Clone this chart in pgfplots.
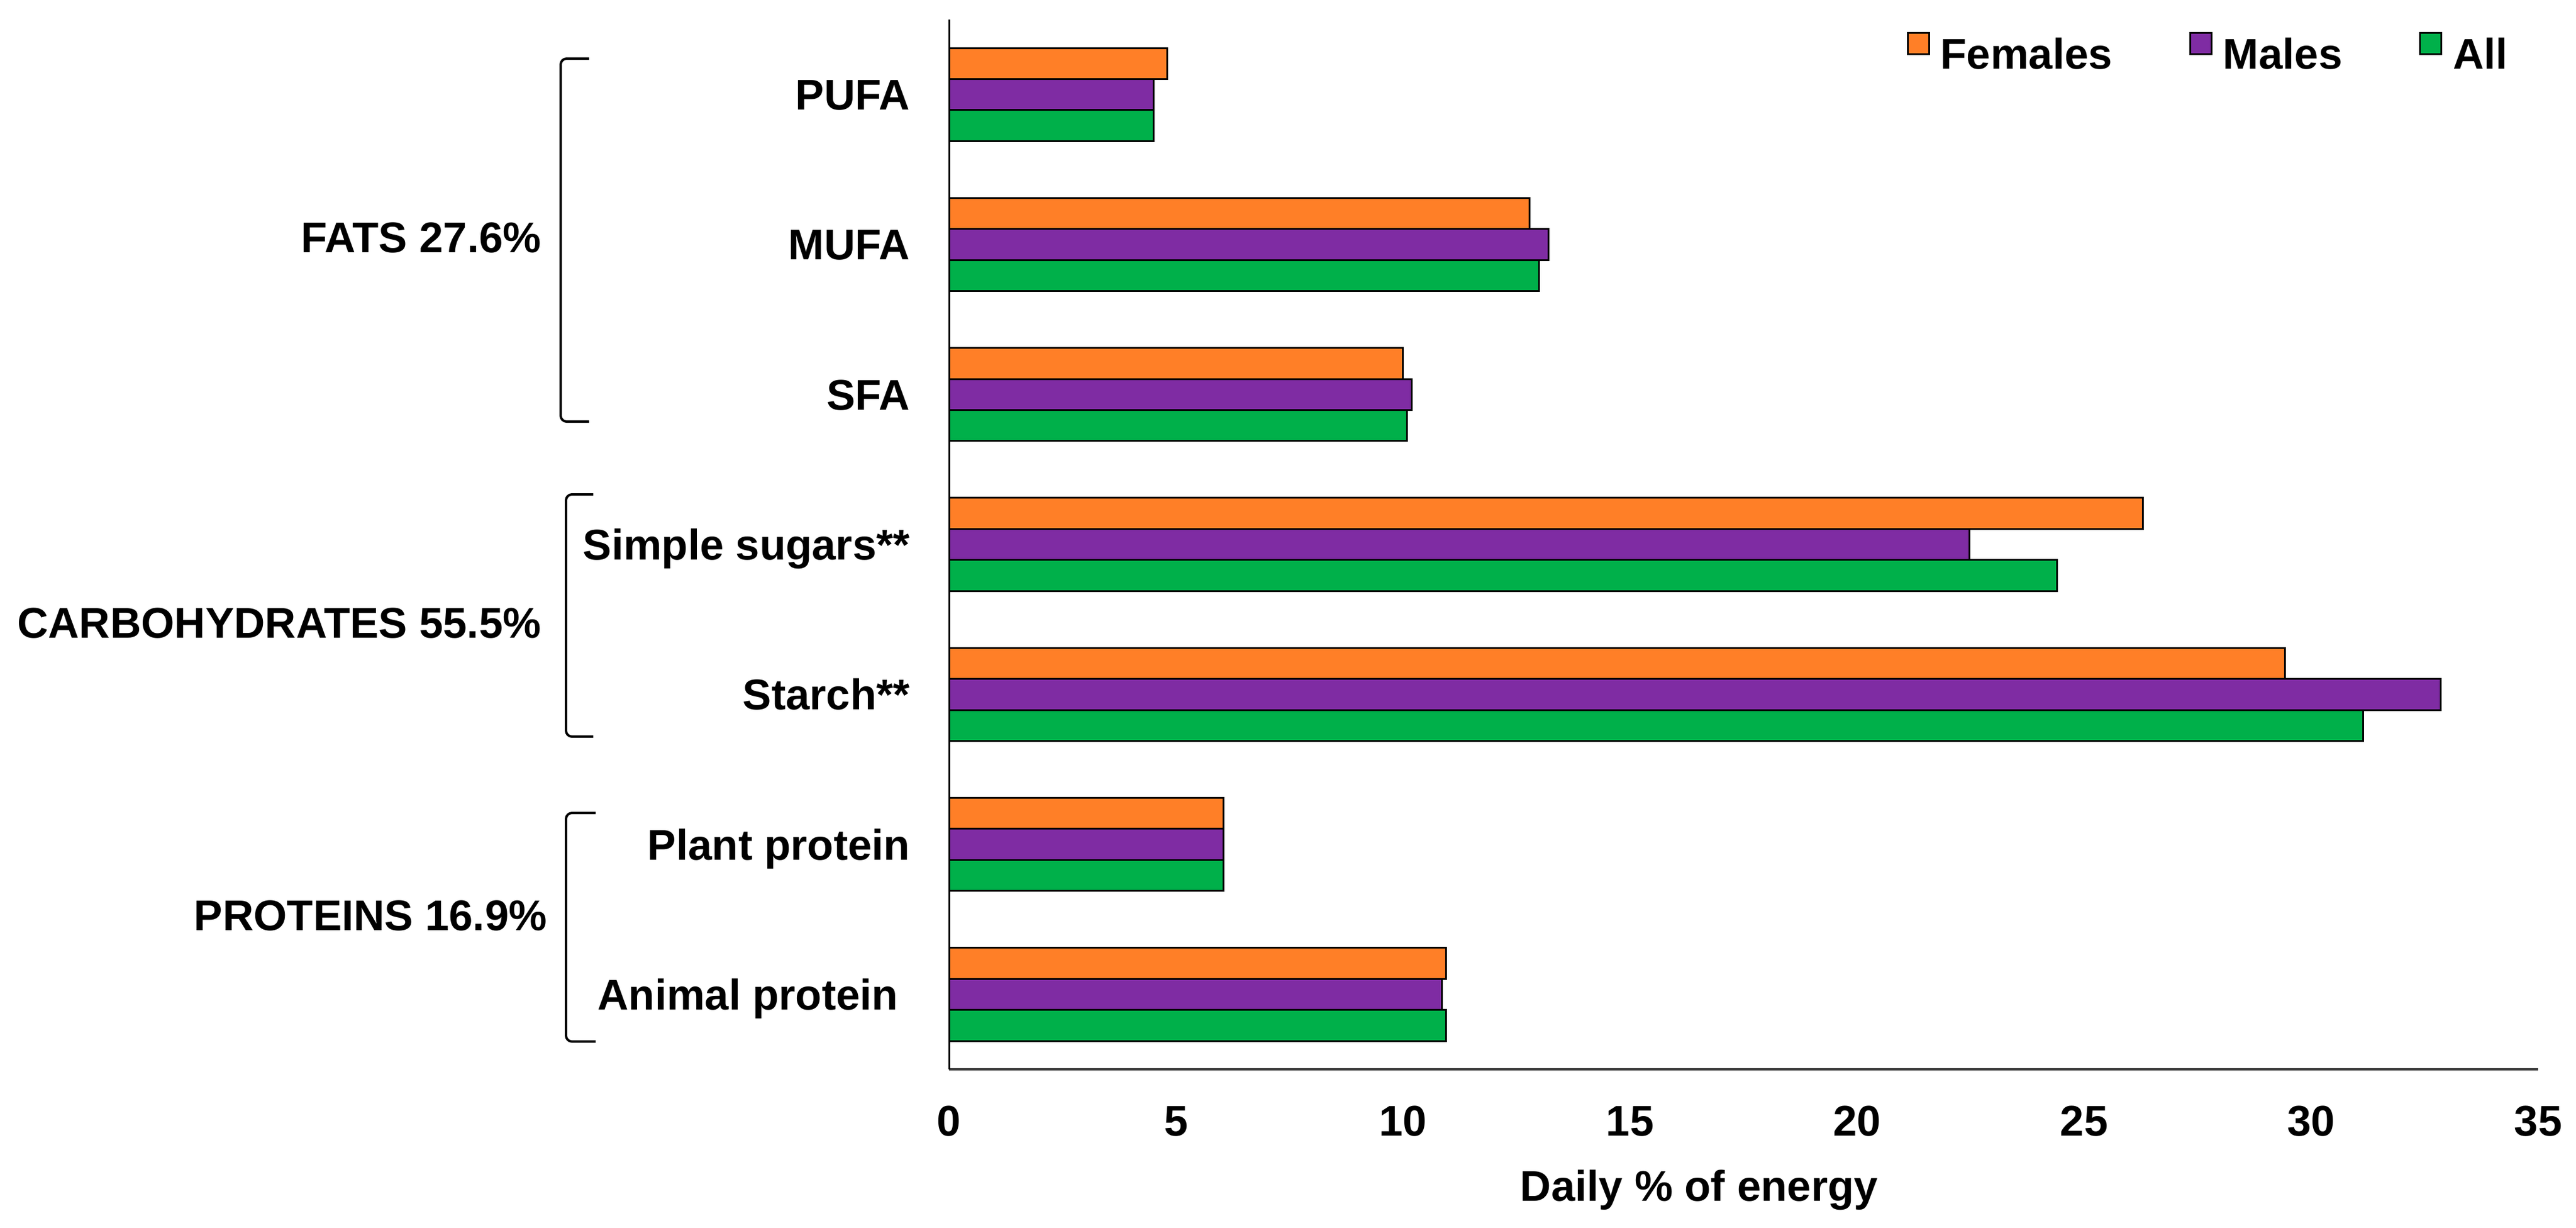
\documentclass[border=0pt]{standalone}
\usepackage{fontspec}
\setmainfont{Liberation Sans}
\usepackage{pgfplots}
\usepackage{pgfplotstable}
\pgfplotsset{compat=1.18}
\definecolor{cF}{RGB}{255,127,39}
\definecolor{cM}{RGB}{127,44,163}
\definecolor{cA}{RGB}{0,176,74}
\pgfplotstableread{
y F M A
6 4.80 4.51 4.51
5 12.79 13.20 13.00
4 9.99 10.19 10.09
3 26.30 22.48 24.40
2 29.43 32.85 31.14
1 6.04 6.04 6.04
0 10.95 10.86 10.95
}\datatab
\begin{document}
\fontsize{7.25}{8.7}\selectfont\bfseries
\begin{tikzpicture}[font=\fontsize{7.25}{8.7}\selectfont\bfseries]
\path[use as bounding box] (-160.3pt,-26.7pt) rectangle (274.8pt,180.6pt);
\begin{axis}[
  at={(0,0)}, anchor=south west,
  scale only axis, width=268.4pt, height=177.3pt,
  xbar, bar width=0.207,
  xmin=0, xmax=35, ymin=-0.5, ymax=6.5,
  enlarge x limits=false, enlarge y limits=false,
  axis x line=bottom, axis y line=left,
  x axis line style={-, line width=0.45pt, draw=black!75},
  y axis line style={-, line width=0.3pt, draw=black},
  major tick length=0pt,
  xtick={0,5,...,35},
  ytick={0,1,2,3,4,5,6},
  yticklabels={Animal protein\hspace*{2pt}, Plant protein, Starch**, Simple sugars**, SFA, MUFA, PUFA},
  /pgf/number format/assume math mode=true,
  xticklabel style={anchor=base, yshift=-11.2pt, inner sep=0pt},
  yticklabel style={anchor=base east, inner sep=0pt, xshift=-6.4pt, yshift=-2.6pt},
  xlabel={Daily \% of energy},
  xlabel style={at={(axis description cs:0.472,0)}, anchor=base, yshift=-22.2pt, inner sep=0pt},
  legend columns=3,
  legend style={draw=none, fill=none, inner sep=0pt, outer sep=0pt,
    at={(0.981,0.988)}, anchor=north east,
    nodes={inner sep=0pt},
    /tikz/every odd column/.append style={column sep=1.8pt},
    /tikz/every even column/.append style={column sep=13.0pt}},
  legend image code/.code={\draw[#1, line width=0.3pt] (0pt,0.4pt) rectangle (3.6pt,4.0pt);},
  every axis plot/.append style={draw=black, line width=0.3pt},
]
\addplot[fill=cF, bar shift=0.207] table[x=F, y=y] {\datatab};
\addlegendentry{Females}
\addplot[fill=cM, bar shift=0] table[x=M, y=y] {\datatab};
\addlegendentry{Males}
\addplot[fill=cA, bar shift=-0.207] table[x=A, y=y] {\datatab};
\addlegendentry{All}
\end{axis}
\node[anchor=base east, inner sep=0pt] at (-68.7pt,138.0pt) {FATS 27.6\%};
\node[anchor=base east, inner sep=0pt] at (-68.7pt,72.9pt) {CARBOHYDRATES 55.5\%};
\node[anchor=base east, inner sep=0pt] at (-67.7pt,23.5pt) {PROTEINS 16.9\%};
\draw[line width=0.4pt, rounded corners=1pt] (-60.8pt,170.7pt) -- (-65.6pt,170.7pt) -- (-65.6pt,109.4pt) -- (-60.8pt,109.4pt);
\draw[line width=0.4pt, rounded corners=1pt] (-60.1pt,97.1pt) -- (-64.7pt,97.1pt) -- (-64.7pt,56.2pt) -- (-60.1pt,56.2pt);
\draw[line width=0.4pt, rounded corners=1pt] (-59.7pt,43.3pt) -- (-64.7pt,43.3pt) -- (-64.7pt,4.7pt) -- (-59.7pt,4.7pt);
\end{tikzpicture}
\end{document}
